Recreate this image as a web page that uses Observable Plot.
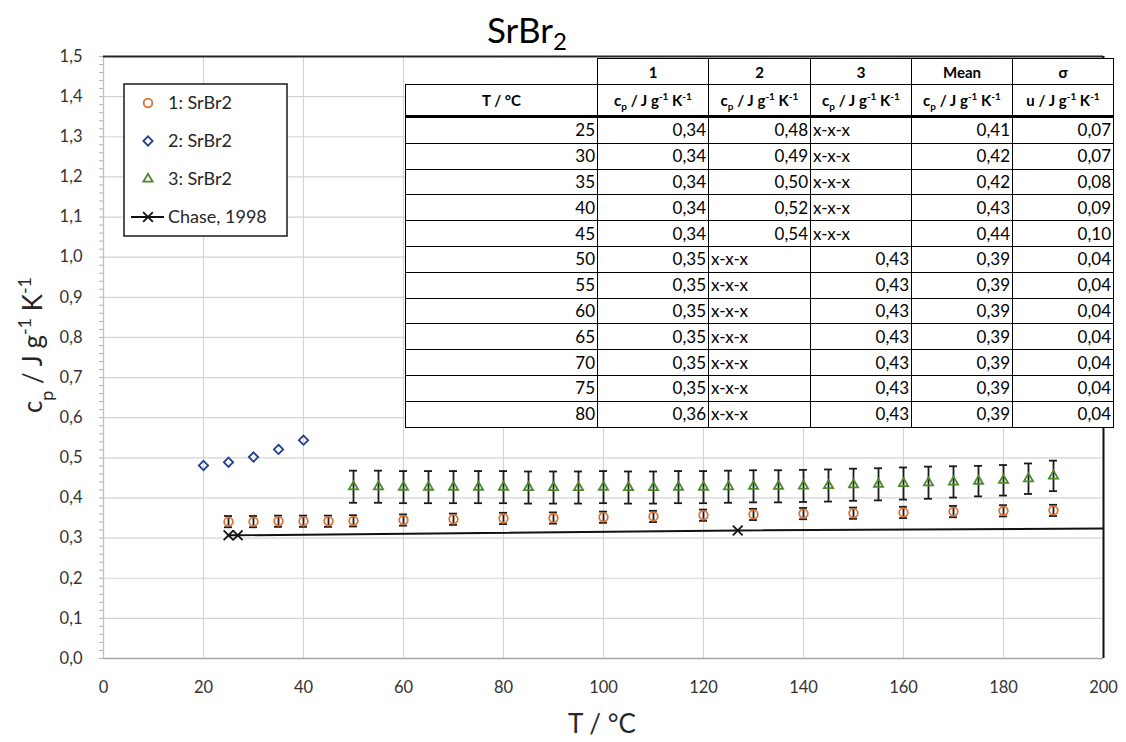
<!DOCTYPE html>
<html>
<head>
<meta charset="utf-8">
<script src="https://cdn.jsdelivr.net/npm/d3@7"></script>
<script src="https://cdn.jsdelivr.net/npm/@observablehq/plot@0.6"></script>
<style>
  body { margin: 0; background: #fff; }
  #chart { position: relative; width: 1126px; height: 742px; font-family: Lato, "Open Sans", sans-serif; }
  #plot, #overlay { position: absolute; left: 0; top: 0; }
  #overlay { pointer-events: none; }
  #data {
    position: absolute; left: 405px; top: 58px; width: 708px;
    border-collapse: collapse; table-layout: fixed; background: #fff;
    font-size: 17px; color: #000;
  }
  #data td, #data th { border: 1.5px solid #000; padding: 0 2px; white-space: nowrap; overflow: hidden; }
  #data td { text-align: right; height: 24.8px; line-height: 24px; }
  #data td.na { text-align: left; }
  #data th { font-weight: bold; text-align: center; font-size: 15px; }
  #data tr.h1 th { height: 25px; }
  #data tr.h1 th.blank { border: none; border-bottom: 1.5px solid #000; }
  #data tr.h2 th { height: 30px; border-bottom: 3px solid #000; }
  #data sub, #data sup { font-size: 10px; line-height: 0; }
</style>
</head>
<body>
<div id="chart">
  <div id="plot"></div>
  <svg id="overlay" width="1126" height="742"></svg>
  <table id="data"></table>
</div>
<script>
// Sample 1: T (°C), cp (J/g/K), uncertainty
const T1 = [25, 30, 35, 40, 45, 50, 60, 70, 80, 90, 100, 110, 120, 130, 140, 150, 160, 170, 180, 190];
const cp1 = [0.341, 0.341, 0.342, 0.342, 0.342, 0.343, 0.345, 0.347, 0.349, 0.350, 0.352, 0.354, 0.357, 0.359, 0.361, 0.362, 0.364, 0.366, 0.368, 0.369];
const err1 = [0.014, 0.014, 0.014, 0.014, 0.014, 0.014, 0.014, 0.014, 0.014, 0.014, 0.014, 0.014, 0.014, 0.014, 0.014, 0.014, 0.014, 0.014, 0.014, 0.014];

// Sample 2
const T2 = [20, 25, 30, 35, 40];
const cp2 = [0.481, 0.489, 0.502, 0.521, 0.544];

// Sample 3
const T3 = [50, 55, 60, 65, 70, 75, 80, 85, 90, 95, 100, 105, 110, 115, 120, 125, 130, 135, 140, 145, 150, 155, 160, 165, 170, 175, 180, 185, 190];
const cp3 = [0.428, 0.428, 0.427, 0.427, 0.427, 0.427, 0.427, 0.426, 0.426, 0.426, 0.427, 0.426, 0.426, 0.427, 0.427, 0.428, 0.429, 0.429, 0.430, 0.431, 0.433, 0.434, 0.436, 0.438, 0.440, 0.442, 0.444, 0.448, 0.455];
const err3 = [0.040, 0.040, 0.040, 0.040, 0.040, 0.040, 0.040, 0.040, 0.040, 0.040, 0.040, 0.040, 0.040, 0.040, 0.040, 0.040, 0.040, 0.040, 0.040, 0.040, 0.040, 0.040, 0.040, 0.040, 0.039, 0.038, 0.038, 0.038, 0.038];

// Literature values (Chase, 1998)
const chaseT = [25, 26.85, 126.85, 226.85];
const chaseCp = [0.307, 0.307, 0.319, 0.326];

// Axis ticks
const xTicks = [0, 20, 40, 60, 80, 100, 120, 140, 160, 180, 200];
const yTicks = [0, 0.1, 0.2, 0.3, 0.4, 0.5, 0.6, 0.7, 0.8, 0.9, 1.0, 1.1, 1.2, 1.3, 1.4, 1.5];
const yMinor = d3.range(0, 76).map(i => i / 50);

// Tabulated results
const tableT = [25, 30, 35, 40, 45, 50, 55, 60, 65, 70, 75, 80];
const table1 = [0.34, 0.34, 0.34, 0.34, 0.34, 0.35, 0.35, 0.35, 0.35, 0.35, 0.35, 0.36];
const table2 = [0.48, 0.49, 0.50, 0.52, 0.54, null, null, null, null, null, null, null];
const table3 = [null, null, null, null, null, 0.43, 0.43, 0.43, 0.43, 0.43, 0.43, 0.43];
const tableMean = [0.41, 0.42, 0.42, 0.43, 0.44, 0.39, 0.39, 0.39, 0.39, 0.39, 0.39, 0.39];
const tableSigma = [0.07, 0.07, 0.08, 0.09, 0.10, 0.04, 0.04, 0.04, 0.04, 0.04, 0.04, 0.04];

const colors = { s1: "#e0702e", s2: "#203f8f", s3: "#4a8a2a", chase: "#111" };
const barColor = "#1a1a1a";

const s1 = T1.map((T, i) => ({ T, cp: cp1[i], e: err1[i] }));
const s2 = T2.map((T, i) => ({ T, cp: cp2[i] }));
const s3 = T3.map((T, i) => ({ T, cp: cp3[i], e: err3[i] }));
const chase = chaseT.map((T, i) => ({ T, cp: chaseCp[i] }));

const comma = (d, n) => d.toFixed(n).replace(".", ",");
const capHalf = 0.8;

function errorBars(data) {
  return [
    Plot.ruleX(data, { x: "T", y1: d => d.cp - d.e, y2: d => d.cp + d.e, stroke: barColor, strokeWidth: 1.8 }),
    Plot.ruleY(data, { y: d => d.cp + d.e, x1: d => d.T - capHalf, x2: d => d.T + capHalf, stroke: barColor, strokeWidth: 1.8 }),
    Plot.ruleY(data, { y: d => d.cp - d.e, x1: d => d.T - capHalf, x2: d => d.T + capHalf, stroke: barColor, strokeWidth: 1.8 })
  ];
}

const chart = Plot.plot({
  width: 1126,
  height: 742,
  marginTop: 56,
  marginBottom: 84,
  marginLeft: 103,
  marginRight: 23,
  style: { fontFamily: "Lato, 'Open Sans', sans-serif", fontSize: "16px", color: "#333", background: "transparent" },
  x: { domain: [0, 200] },
  y: { domain: [0, 1.5] },
  marks: [
    Plot.gridX(xTicks, { stroke: "#d4d4d4", strokeOpacity: 1, strokeWidth: 1.2 }),
    Plot.gridY(yTicks, { stroke: "#d4d4d4", strokeOpacity: 1, strokeWidth: 1.2 }),
    Plot.axisX(xTicks, { tickSize: 0, tickPadding: 23, tickFormat: d => String(d), label: null, fontSize: 16.5 }),
    Plot.axisY(yTicks, { tickSize: 0, tickPadding: 21, tickFormat: d => comma(d, 1), label: null, fontSize: 16.5 }),
    Plot.axisY(yMinor, { tickSize: 4, fill: "none", stroke: "#b0b0b0", label: null }),
    Plot.ruleX([0], { stroke: "#bfbfbf", strokeWidth: 1.2 }),
    Plot.ruleY([0], { stroke: "#a6a6a6", strokeWidth: 1.6 }),
    Plot.ruleY([1.5], { stroke: "#262626", strokeWidth: 2 }),
    Plot.ruleX([200], { stroke: "#111", strokeWidth: 2 }),
    Plot.line(chase, { x: "T", y: "cp", stroke: colors.chase, strokeWidth: 2, clip: true }),
    Plot.dot(chase, { x: "T", y: "cp", symbol: "times", r: 4.5, stroke: colors.chase, strokeWidth: 1.8, clip: true }),
    ...errorBars(s3),
    ...errorBars(s1),
    Plot.dot(s1, { x: "T", y: "cp", symbol: "circle", r: 4.3, stroke: colors.s1, strokeWidth: 1.8, fill: "none" }),
    Plot.dot(s2, { x: "T", y: "cp", symbol: "diamond2", r: 4.2, stroke: colors.s2, strokeWidth: 1.8, fill: "none" }),
    Plot.dot(s3, { x: "T", y: "cp", symbol: "triangle", r: 3.4, stroke: colors.s3, strokeWidth: 1.8, fill: "none" })
  ]
});
document.getElementById("plot").appendChild(chart);

// Title, axis titles and legend
const svg = d3.select("#overlay");
const font = "Lato, 'Open Sans', sans-serif";

const title = svg.append("text").attr("x", 487).attr("y", 43)
  .attr("font-family", font).attr("font-size", 35).attr("fill", "#000");
title.append("tspan").text("SrBr");
title.append("tspan").attr("baseline-shift", "-7").attr("font-size", 24).text("2");

const xl = svg.append("text").attr("x", 602).attr("y", 733).attr("text-anchor", "middle")
  .attr("font-family", font).attr("font-size", 26).attr("fill", "#262626");
xl.text("T / °C");

const yl = svg.append("text").attr("transform", "translate(42,345) rotate(-90)").attr("text-anchor", "middle")
  .attr("font-family", font).attr("font-size", 26).attr("fill", "#262626");
yl.append("tspan").text("c");
yl.append("tspan").attr("baseline-shift", "sub").attr("font-size", 18).text("p");
yl.append("tspan").text(" / J g");
yl.append("tspan").attr("baseline-shift", "super").attr("font-size", 18).text("-1");
yl.append("tspan").text(" K");
yl.append("tspan").attr("baseline-shift", "super").attr("font-size", 18).text("-1");

const legendItems = [
  { label: "1: SrBr2", symbol: d3.symbolCircle, r: 4.3, color: colors.s1 },
  { label: "2: SrBr2", symbol: d3.symbolDiamond2, r: 4.2, color: colors.s2 },
  { label: "3: SrBr2", symbol: d3.symbolTriangle, r: 3.4, color: colors.s3 },
  { label: "Chase, 1998", symbol: d3.symbolTimes, r: 4.5, color: colors.chase, line: true }
];
const lg = svg.append("g").attr("transform", "translate(124,84)");
lg.append("rect").attr("width", 163).attr("height", 152).attr("fill", "#fff")
  .attr("stroke", "#1a1a1a").attr("stroke-width", 1.5);
legendItems.forEach((it, i) => {
  const g = lg.append("g").attr("transform", `translate(0,${19 + i * 38})`);
  if (it.line) {
    g.append("line").attr("x1", 7).attr("x2", 40).attr("stroke", it.color).attr("stroke-width", 2);
  }
  g.append("path").attr("transform", "translate(24,0)")
    .attr("d", d3.symbol(it.symbol, Math.PI * it.r * it.r)())
    .attr("fill", "none").attr("stroke", it.color).attr("stroke-width", 1.8);
  g.append("text").attr("x", 44).attr("dy", "0.35em").attr("font-family", font)
    .attr("font-size", 18).attr("fill", "#262626").text(it.label);
});

// Results table
const table = d3.select("#data");
const cg = table.append("colgroup");
[192, 111, 102, 101, 101, 101].forEach(w => cg.append("col").style("width", w + "px"));
const h1 = table.append("tr").attr("class", "h1");
h1.append("th").attr("class", "blank");
["1", "2", "3", "Mean", "σ"].forEach(t => h1.append("th").text(t));
const h2 = table.append("tr").attr("class", "h2");
h2.append("th").text("T / °C");
const unitHtml = q => `${q} / J g<sup>-1</sup> K<sup>-1</sup>`;
["c<sub>p</sub>", "c<sub>p</sub>", "c<sub>p</sub>", "c<sub>p</sub>", "u"].forEach(q => h2.append("th").html(unitHtml(q)));
tableT.forEach((T, i) => {
  const tr = table.append("tr");
  tr.append("td").text(T);
  [table1[i], table2[i], table3[i], tableMean[i], tableSigma[i]].forEach(v => {
    const td = tr.append("td");
    if (v == null) td.attr("class", "na").text("x-x-x");
    else td.text(comma(v, 2));
  });
});
</script>
</body>
</html>
